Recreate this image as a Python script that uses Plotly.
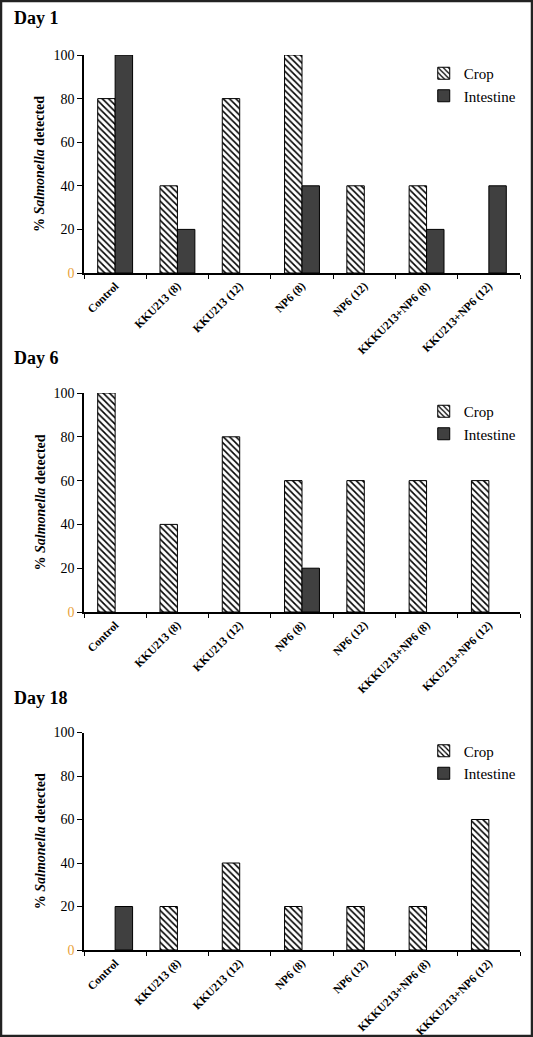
import plotly.graph_objects as go

categories = ["Control", "KKU213 (8)", "KKU213 (12)", "NP6 (8)", "NP6 (12)",
              "KKKU213+NP6 (8)", "KKU213+NP6 (12)"]
categories_d18 = ["Control", "KKU213 (8)", "KKU213 (12)", "NP6 (8)", "NP6 (12)",
                  "KKKU213+NP6 (8)", "KKKU213+NP6 (12)"]
day_titles = ["Day 1", "Day 6", "Day 18"]
crop_day1 = [80, 40, 80, 100, 40, 40, 0]
intestine_day1 = [100, 20, 0, 40, 0, 20, 40]
crop_day6 = [100, 40, 80, 60, 60, 60, 60]
intestine_day6 = [0, 0, 0, 20, 0, 0, 0]
crop_day18 = [0, 20, 40, 20, 20, 20, 60]
intestine_day18 = [20, 0, 0, 0, 0, 0, 0]
y_ticks = [0, 20, 40, 60, 80, 100]

W, H = 533, 1037
SERIF = "Liberation Serif"

panels = [
    (crop_day1, intestine_day1, categories, (55, 273), 18),
    (crop_day6, intestine_day6, categories, (393, 612), 358),
    (crop_day18, intestine_day18, categories_d18, (732.5, 950), 698),
]


def nz(vals):
    # zero-height bars are not drawn (no outline stub)
    return [v if v else None for v in vals]


fig = go.Figure()
layout = dict(
    width=W, height=H, margin=dict(l=0, r=0, t=0, b=0),
    paper_bgcolor="white", plot_bgcolor="white", template="none",
    barmode="group", bargap=0.44, bargroupgap=0,
    font=dict(family=SERIF, color="black"),
    annotations=[], shapes=[],
)

ticktext = ['<span style="color:#E9A23B">0</span>'] + [str(v) for v in y_ticks[1:]]

for i, (crop, intest, cats, (ytop, ybot), ytitle) in enumerate(panels):
    n = "" if i == 0 else str(i + 1)
    xa, ya = "x" + n, "y" + n
    leg = "legend" + n
    fig.add_trace(go.Bar(
        x=cats, y=nz(crop), name="Crop", xaxis=xa, yaxis=ya, legend=leg,
        marker=dict(color="white", line=dict(color="black", width=1),
                    pattern=dict(shape="\\", fgcolor="black", bgcolor="white",
                                 size=4.5, solidity=0.35)),
    ))
    fig.add_trace(go.Bar(
        x=cats, y=nz(intest), name="Intestine", xaxis=xa, yaxis=ya, legend=leg,
        marker=dict(color="#404040", line=dict(color="black", width=1)),
    ))
    d0 = 1 - ybot / H
    d1 = 1 - ytop / H
    layout["xaxis" + n] = dict(
        domain=[84 / W, 520 / W], anchor=ya, showline=True, linecolor="black",
        linewidth=1.5, ticks="outside", ticklen=4, tickcolor="black",
        tickson="boundaries", tickangle=-45, showgrid=False, zeroline=False,
        tickfont=dict(family=SERIF, size=11.5, color="black", weight="bold"),
        automargin=False, fixedrange=True,
    )
    layout["yaxis" + n] = dict(
        domain=[d0, d1], anchor=xa, range=[0, 100], showline=True,
        linecolor="black", linewidth=1.5, ticks="outside", ticklen=5,
        tickcolor="black", tickvals=y_ticks, ticktext=ticktext,
        showgrid=False, zeroline=False, automargin=False, fixedrange=True,
        tickfont=dict(family=SERIF, size=14, color="black"),
    )
    layout[leg] = dict(
        x=0.795, y=1 - (ytop + 2) / H, xanchor="left", yanchor="top",
        bgcolor="rgba(0,0,0,0)", font=dict(family=SERIF, size=15, color="black"),
        itemwidth=30, tracegroupgap=0,
    )
    layout["annotations"].append(dict(
        text=day_titles[i], x=12 / W, y=1 - ytitle / H, xref="paper", yref="paper",
        xanchor="left", yanchor="middle", showarrow=False,
        font=dict(family=SERIF, size=18, color="black", weight="bold"),
    ))
    layout["annotations"].append(dict(
        text="% <i>Salmonella</i> detected", x=40 / W, y=1 - (ytop + ybot) / 2 / H,
        xref="paper", yref="paper", xanchor="center", yanchor="middle",
        textangle=-90, showarrow=False,
        font=dict(family=SERIF, size=14, color="black", weight="bold"),
    ))

layout["shapes"].append(dict(
    type="rect", xref="paper", yref="paper", x0=1 / W, x1=1 - 1 / W,
    y0=1 / H, y1=1 - 1 / H, line=dict(color="#222222", width=2.5),
))

fig.update_layout(**layout)
fig.write_html("out.html", config={"displayModeBar": False},
               post_script="document.body.style.margin='0';document.body.style.overflow='hidden';")
